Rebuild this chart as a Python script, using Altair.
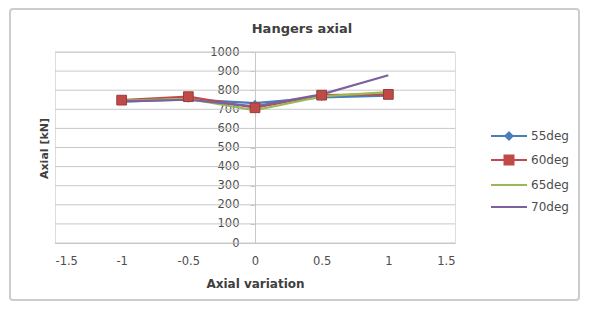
import altair as alt
import pandas as pd

x_vals = [-1, -0.5, 0, 0.5, 1]
series_names = ["55deg", "60deg", "65deg", "70deg"]
s55 = [740, 752, 732, 762, 772]
s60 = [748, 766, 708, 774, 778]
s65 = [745, 755, 695, 768, 790]
s70 = [742, 750, 715, 778, 878]
y_ticks = [0, 100, 200, 300, 400, 500, 600, 700, 800, 900, 1000]
x_ticks = [-1.5, -1, -0.5, 0, 0.5, 1, 1.5]
colors = ["#4A7EBB", "#BE4B48", "#98B954", "#7D60A0"]
legend_paths = [
    "M-1.8,0H1.8M0,-0.36L0.36,0L0,0.36L-0.36,0Z",
    "M-1.8,0H1.8M-0.45,-0.45H0.45V0.45H-0.45Z",
    "M-1.8,0H1.8",
    "M-1.8,0H1.8",
]

rows = []
for name, vals in zip(series_names, [s55, s60, s65, s70]):
    for xv, yv in zip(x_vals, vals):
        rows.append({"variation": xv, "axial": yv, "series": name})
df = pd.DataFrame(rows)
grid_df = pd.DataFrame({"axial": y_ticks})
frame_df = pd.DataFrame({"k": [0]})

W, H = 400, 191
FONT = "DejaVu Sans"
GRID = "#c8c8c8"
TXT = "#4d4d4d"

xscale = alt.Scale(domain=[-1.5, 1.5], nice=False, zero=False)
yscale = alt.Scale(domain=[0, 1000], nice=False)

x_axis = alt.Axis(
    values=x_ticks, labelExpr="datum.value + ''", grid=False, ticks=False,
    domain=True, domainColor=GRID, labelPadding=12, labelFont=FONT, labelFontSize=11.5,
    labelColor=TXT, title="Axial variation", titleFont=FONT, titleFontSize=12,
    titleFontWeight="bold", titleColor="#404040", titlePadding=12,
)
y_axis = alt.Axis(
    values=y_ticks, format="d", grid=False, offset=-200, domain=True, domainColor=GRID,
    ticks=True, tickColor=GRID, tickSize=5, labelPadding=11, labelFont=FONT,
    labelFontSize=11.5, labelColor=TXT,
    title="Axial [kN]", titleFont=FONT, titleFontSize=11, titleFontWeight="bold",
    titleColor="#404040", titleX=-211, titleY=96, titleAngle=270,
    titleAlign="center", titleBaseline="middle",
)
X = alt.X("variation:Q", scale=xscale, axis=x_axis)
Y = alt.Y("axial:Q", scale=yscale, axis=y_axis)


def make_legend():
    return alt.Legend(
        orient="none", legendX=443, legendY=73, title=None,
        symbolSize=400, labelOffset=11, rowPadding=5, padding=0,
        labelFontSize=12, labelFont=FONT, labelColor=TXT,
        symbolStrokeWidth=2, symbolOpacity=1,
    )


frame = alt.Chart(frame_df).mark_rect(
    fill="white", fillOpacity=0, stroke="#cccccc", strokeWidth=2, cornerRadius=3
).encode(x=alt.value(-45), x2=alt.value(524), y=alt.value(-43), y2=alt.value(248))

grid = alt.Chart(grid_df).mark_rule(color=GRID, strokeWidth=1).encode(
    y=Y, x=alt.value(0), x2=alt.value(W),
)

base = alt.Chart(df)
layers = [frame, grid]
for name, col in zip(series_names, colors):
    layers.append(
        base.transform_filter(alt.datum.series == name)
        .mark_line(strokeWidth=2.2, strokeJoin="round", color=col)
        .encode(x=X, y=Y, order=alt.Order("variation:Q"))
    )

pts55 = base.transform_filter(alt.datum.series == "55deg").mark_point(
    shape="diamond", filled=True, opacity=1, size=45, color=colors[0]
).encode(x=X, y=Y)
pts60 = base.transform_filter(alt.datum.series == "60deg").mark_point(
    shape="square", filled=True, opacity=1, size=95, color=colors[1],
    stroke="#9c3a37", strokeWidth=1,
).encode(x=X, y=Y)
layers += [pts55, pts60]

legend_layer = base.mark_point(filled=True, opacity=0).encode(
    x=X, y=Y,
    color=alt.Color("series:N", scale=alt.Scale(domain=series_names, range=colors), legend=make_legend()),
    stroke=alt.Stroke("series:N", scale=alt.Scale(domain=series_names, range=colors), legend=make_legend()),
    shape=alt.Shape("series:N", scale=alt.Scale(domain=series_names, range=legend_paths), legend=make_legend()),
)
layers.append(legend_layer)

chart = alt.layer(*layers).properties(
    width=W, height=H,
    autosize=alt.AutoSizeParams(type="none"),
    padding={"left": 47, "top": 44, "right": 126, "bottom": 59},
    title=alt.TitleParams(
        "Hangers axial", font=FONT, fontSize=13, fontWeight="bold", color="#404040",
        anchor="middle", dx=47, offset=-28,
    ),
).configure_view(strokeWidth=0).configure(background="white")

chart.save("out.html", embed_options={"renderer": "svg", "actions": False})
